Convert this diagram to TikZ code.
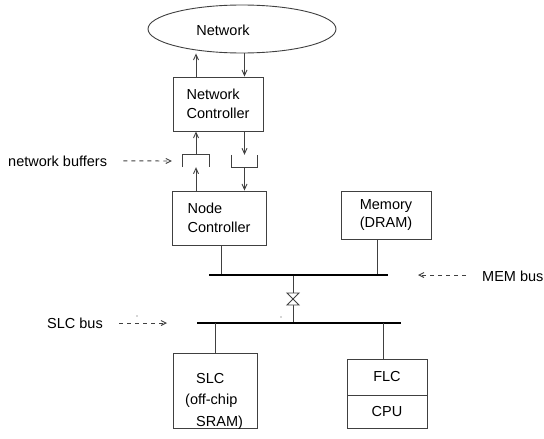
\documentclass[tikz,border=0pt]{standalone}
\usepackage{fontspec}
\setmainfont{Liberation Sans}
\usetikzlibrary{arrows.meta,shapes.geometric}
\newcommand{\dfont}{\fontsize{14.5}{18.5}\selectfont}
\begin{document}
\begin{tikzpicture}[x=1pt,y=-1pt,
  line/.style={draw=black!75,line width=0.9pt},
  box/.style={line, rectangle, inner sep=0pt, font=\dfont, align=center, text=black},
  txt/.style={font=\dfont, inner sep=0pt, text=black},
  arr/.style={line, -{Straight Barb[length=5.5pt,width=5pt]}},
  dasharr/.style={line, dash pattern=on 4pt off 4pt, -{Straight Barb[length=5pt,width=5pt]}},
  bus/.style={draw=black, line width=2.2pt},
  buf/.style={minimum width=26pt, minimum height=12pt, inner sep=0pt}]
\useasboundingbox (0,0) rectangle (544,439);
% network
\node[line, ellipse, minimum width=188pt, minimum height=48pt, inner sep=0pt] (net) at (242,29) {};
\node[txt] (nettxt) at (223,30) {Network};
% network controller
\node[box, align=left, minimum width=90pt, minimum height=54pt] (nc) at (218,104) {Network\\Controller};
% buffers
\node[buf] (bufA) at (196,161) {};
\node[buf] (bufB) at (244.5,161) {};
\draw[line] (bufA.south west) -- (bufA.north west) -- (bufA.north east) -- (bufA.south east);
\draw[line] (bufB.north west) -- (bufB.south west) -- (bufB.south east) -- (bufB.north east);
% node controller, memory
\node[box, align=left, minimum width=94pt, minimum height=54pt] (ndc) at (219,218) {Node\\Controller};
\node[box, minimum width=90pt, minimum height=48pt] (mem) at (386,215) {Memory\\(DRAM)};
% arrows
\draw[arr] (nc.north -| bufA) -- (bufA |- net.south);
\draw[arr] (net.south -| bufB) -- (nc.north -| bufB);
\draw[arr] (bufA.north) -- (bufA |- nc.south);
\draw[arr] (ndc.north -| bufA) -- (bufA.south);
\draw[arr] (nc.south -| bufB) -- (bufB.north);
\draw[arr] (bufB.south) -- (ndc.north -| bufB);
% buses
\coordinate (memL) at (209,275);
\coordinate (memR) at (388,275);
\coordinate (slcL) at (197,323);
\coordinate (slcR) at (401,323);
\coordinate (valve) at (293,299);
\draw[line] ([xshift=2pt]ndc.south) -- ([xshift=2pt]ndc.south |- memL);
\draw[line] ([xshift=-9pt]mem.south) -- ([xshift=-9pt]mem.south |- memL);
\draw[line] (valve |- memL) -- (valve |- slcL);
\draw[line, fill=white] ([shift={(-6,-6)}]valve) -- ++(12,0) -- ++(-12,12) -- ++(12,0) -- cycle;
\draw[bus] (memL) -- (memR);
\draw[bus] (slcL) -- (slcR);
% SLC
\node[box, minimum width=84pt, minimum height=75pt] (slc) at (215,390.5) {};
\node[txt, anchor=base west] (slc1) at (196,383) {SLC};
\node[txt, anchor=base west] (slc2) at (185,404.5) {(off-chip};
\node[txt, anchor=base west] (slc3) at (196,426) {SRAM)};
\draw[line] (slc.north) -- (slc.north |- slcL);
% FLC / CPU
\node[box, minimum width=80pt, minimum height=36pt] (flc) at (387,377) {FLC};
\node[box, minimum width=80pt, minimum height=33pt] (cpu) at (387,411.5) {CPU};
\draw[line] ([xshift=-4pt]flc.north) -- ([xshift=-4pt]flc.north |- slcL);
% labels
\node[txt, anchor=base west] (nbl) at (8,166) {network buffers};
\draw[dasharr] ([xshift=16pt]nbl.east) -- ([xshift=-11pt]bufA.west);
\node[txt, anchor=base west] (slcbl) at (47,328) {SLC bus};
\draw[dasharr] ([xshift=16pt]slcbl.east |- slcL) -- ([xshift=-30pt]slcL);
\node[txt, anchor=base west] (membl) at (482,281) {MEM bus};
\draw[dasharr] ([xshift=-16pt]membl.west |- memR) -- ([xshift=30pt]memR);
% stray dots
\fill[black!70] (281,317) circle (0.6);
\fill[black!70] (137,316) circle (0.6);
\end{tikzpicture}
\end{document}
